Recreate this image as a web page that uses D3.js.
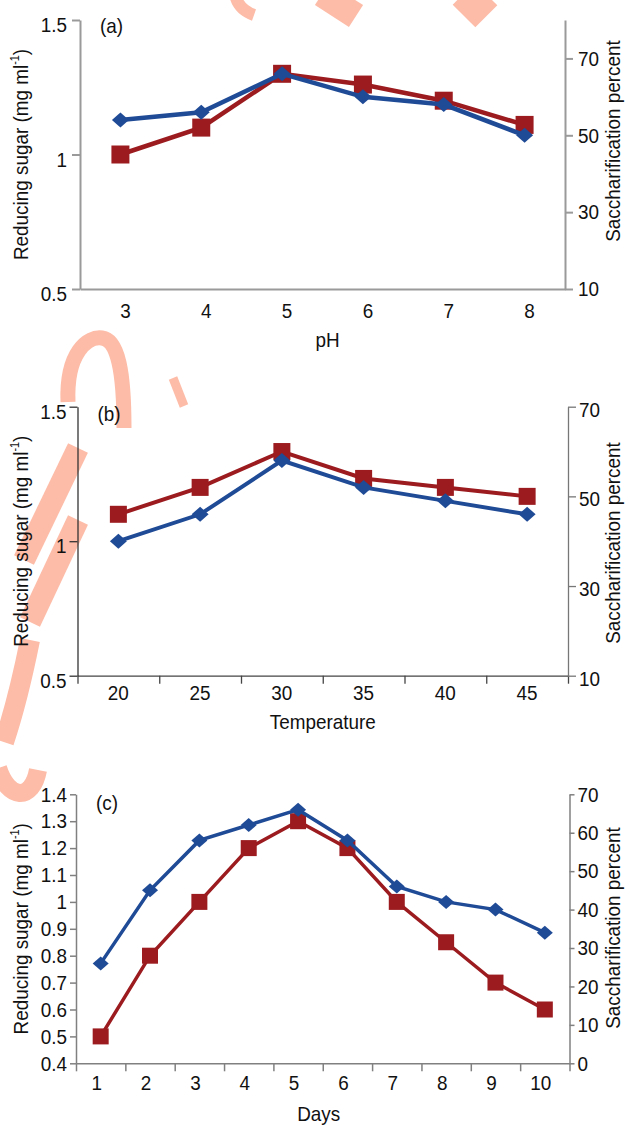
<!DOCTYPE html>
<html>
<head>
<meta charset="utf-8">
<script src="https://cdn.jsdelivr.net/npm/d3@7"></script>
<style>
  body { margin: 0; background: #fff; }
  text { font-family: "Liberation Sans", Arial, sans-serif; fill: #111; }
</style>
</head>
<body>
<script>
// ---- data ----
// (a) pH
const phLevels = [3, 4, 5, 6, 7, 8];
const phSugar = [1.0, 1.1, 1.3, 1.26, 1.2, 1.11];     // red squares, left axis
const phSacch = [54, 56, 66, 60, 58, 50];             // blue diamonds, right axis
const phLeftTicks = [0.5, 1, 1.5];
const phRightTicks = [10, 30, 50, 70];

// (b) temperature
const tempLevels = [20, 25, 30, 35, 40, 45];
const tempSugar = [1.0, 1.1, 1.3, 1.2, 1.15, 1.1];    // blue diamonds, left axis
const tempSacch = [46, 52, 60, 54, 52, 50];           // red squares, right axis
const tempLeftTicks = [0.5, 1, 1.5];
const tempRightTicks = [10, 30, 50, 70];

// (c) days
const dayLevels = [1, 2, 3, 4, 5, 6, 7, 8, 9, 10];
const daySugar = [0.5, 0.8, 1.0, 1.2, 1.3, 1.2, 1.0, 0.85, 0.7, 0.6];  // red squares, left axis
const daySacch = [26, 45, 58, 62, 66, 58, 46, 42, 40, 34];             // blue diamonds, right axis
const dayLeftTicks = [0.4, 0.5, 0.6, 0.7, 0.8, 0.9, 1, 1.1, 1.2, 1.3, 1.4];
const dayRightTicks = [0, 10, 20, 30, 40, 50, 60, 70];

const RED = "#9b1b1f", BLUE = "#1f4a96";
const FS = 21, NARROW = 0.9;   // original uses a narrow sans

const svg = d3.select("body").append("svg")
    .attr("width", 630)
    .attr("height", 1126);

// squeeze text horizontally to mimic the condensed face
function narrow(sel) {
    sel.each(function() {
        const t = d3.select(this);
        const x = +t.attr("x") || 0;
        t.attr("x", x / NARROW);
        t.attr("transform", (t.attr("transform") || "") + " scale(" + NARROW + ",1)");
    });
}

// faint watermark strokes behind the charts
const wm = svg.append("g")
    .attr("fill", "none")
    .attr("stroke", "#fdbca7")
    .attr("stroke-linecap", "butt");
[
    ["M236,-2 Q240,10 254,15", 12],
    ["M322,-6 L356,16", 26],
    ["M486,-6 L464,16", 32],
    ["M68,402 C66,352 88,336 102,338 C118,340 124,372 124,428", 15],
    ["M173,378 L184,406", 9],
    ["M78,448 L24,560", 22],
    ["M78,520 L30,622", 22],
    ["M30,640 Q18,700 4,742", 20],
    ["M-2,768 C8,800 32,802 38,770", 18]
].forEach(([d, w]) => wm.append("path").attr("d", d).attr("stroke-width", w));

function drawPanel(cfg) {
    const g = svg.append("g");

    const x = d3.scaleBand().domain(cfg.levels).range([cfg.x0, cfg.x1]);
    const xEdge = d3.scaleLinear().domain([0, cfg.levels.length]).range([cfg.x0, cfg.x1]);
    const yL = d3.scaleLinear().domain(cfg.leftDomain).range([cfg.yBot, cfg.yTop]);
    const yR = d3.scaleLinear().domain(cfg.rightDomain).range([cfg.yBot, cfg.yTop]);

    // x axis line + tick marks between categories
    const xAxis = g.append("g")
        .attr("transform", "translate(0," + cfg.yBot + ")")
        .call(d3.axisBottom(xEdge)
            .tickValues(d3.range(cfg.levels.length + 1))
            .tickSize(cfg.xTick)
            .tickSizeOuter(0)
            .tickFormat(""));
    xAxis.selectAll("path, line").attr("stroke", cfg.xColor).attr("stroke-width", cfg.axisW);

    // x labels at category centres
    const xLab = g.append("g")
        .attr("transform", "translate(" + cfg.xLabDx + "," + cfg.yBot + ")")
        .call(d3.axisBottom(x).tickSize(0).tickPadding(cfg.xLabPad));
    xLab.select(".domain").remove();
    xLab.selectAll("text").attr("font-size", FS).attr("font-family", null).call(narrow);

    const left = g.append("g")
        .attr("transform", "translate(" + cfg.x0 + ",0)")
        .call(d3.axisLeft(yL).tickValues(cfg.leftTicks).tickSize(cfg.yTickL)
            .tickSizeOuter(0).tickPadding(cfg.yPadL).tickFormat(d => String(d)));
    left.selectAll("path, line").attr("stroke", cfg.leftColor).attr("stroke-width", cfg.axisW);
    left.selectAll("text").attr("font-size", FS).attr("font-family", null).attr("dy", cfg.yLabDy).call(narrow);

    const right = g.append("g")
        .attr("transform", "translate(" + cfg.x1 + ",0)")
        .call(d3.axisRight(yR).tickValues(cfg.rightTicks).tickSize(cfg.yTickR)
            .tickSizeOuter(0).tickPadding(cfg.yPadR).tickFormat(d => String(d)));
    right.selectAll("path, line").attr("stroke", cfg.rightColor).attr("stroke-width", cfg.axisW);
    right.selectAll("text").attr("font-size", FS).attr("font-family", null).attr("dy", cfg.yLabDyR).call(narrow);

    // titles
    g.append("text")
        .attr("x", cfg.x0 + 20).attr("y", cfg.tagY)
        .attr("font-size", FS)
        .text(cfg.tag)
        .call(narrow);

    g.append("text")
        .attr("x", cfg.x0 + cfg.xLabDx + (cfg.x1 - cfg.x0) / 2)
        .attr("y", cfg.xTitleY)
        .attr("text-anchor", "middle")
        .attr("font-size", FS)
        .text(cfg.xTitle)
        .call(narrow);

    const lt = g.append("text")
        .attr("transform", "translate(28," + (cfg.yTop + cfg.yBot) / 2 + ") rotate(-90)")
        .attr("text-anchor", "middle")
        .attr("font-size", FS);
    lt.append("tspan").text("Reducing sugar (mg ml");
    lt.append("tspan").attr("font-size", 12).attr("dy", -9).text("-1");
    lt.append("tspan").attr("dy", 9).text(")");
    lt.call(narrow);

    g.append("text")
        .attr("transform", "translate(620," + cfg.rTitleY + ") rotate(-90)")
        .attr("text-anchor", "middle")
        .attr("font-size", FS)
        .text("Saccharification percent")
        .call(narrow);

    // series
    const cx = d => x(d) + x.bandwidth() / 2;
    const series = [
        { vals: cfg.redVals, y: cfg.redAxis === "left" ? yL : yR, color: RED, shape: "square" },
        { vals: cfg.blueVals, y: cfg.blueAxis === "left" ? yL : yR, color: BLUE, shape: "diamond" }
    ];
    series.forEach(s => {
        const pts = cfg.levels.map((lv, i) => [cx(lv), s.y(s.vals[i])]);
        g.append("path")
            .attr("d", d3.line()(pts))
            .attr("fill", "none")
            .attr("stroke", s.color)
            .attr("stroke-width", cfg.lineW);
        g.selectAll(null).data(pts).enter().append("path")
            .attr("transform", p => "translate(" + p[0] + "," + p[1] + ")")
            .attr("d", s.shape === "square"
                ? "M" + (-cfg.sq / 2) + "," + (-cfg.sq / 2) + "h" + cfg.sq + "v" + cfg.sq + "h" + (-cfg.sq) + "Z"
                : "M0," + (-cfg.dm / 2) + "L" + (cfg.dm / 2 + 1) + ",0L0," + (cfg.dm / 2) + "L" + (-cfg.dm / 2 - 1) + ",0Z")
            .attr("fill", s.color);
    });
}

drawPanel({
    levels: phLevels, redVals: phSugar, blueVals: phSacch, redAxis: "left", blueAxis: "right",
    leftTicks: phLeftTicks, rightTicks: phRightTicks,
    leftDomain: [0.5, 1.5], rightDomain: [10, 80],
    x0: 80, x1: 565, yTop: 20, yBot: 289,
    xTick: 0, xLabDx: 5, xLabPad: 14, yTickL: 8, yPadL: 5, yTickR: 8, yPadR: 5,
    yLabDy: "0.55em", yLabDyR: "0.32em",
    axisW: 2, xColor: "#9a9a9a", leftColor: "#9a9a9a", rightColor: "#9a9a9a",
    lineW: 4.5, sq: 18, dm: 15,
    tag: "(a)", tagY: 33, xTitle: "pH", xTitleY: 347, rTitleY: 141
});

drawPanel({
    levels: tempLevels, redVals: tempSacch, blueVals: tempSugar, redAxis: "right", blueAxis: "left",
    leftTicks: tempLeftTicks, rightTicks: tempRightTicks,
    leftDomain: [0.5, 1.5], rightDomain: [10, 70],
    x0: 77.5, x1: 568, yTop: 406.7, yBot: 675.7,
    xTick: 8, xLabDx: 0, xLabPad: 9, yTickL: 8, yPadL: 3, yTickR: 8, yPadR: 3,
    yLabDy: "0.55em", yLabDyR: "0.45em",
    axisW: 1.3, xColor: "#444", leftColor: "#333", rightColor: "#777",
    lineW: 4, sq: 17, dm: 15,
    tag: "(b)", tagY: 421, xTitle: "Temperature", xTitleY: 729, rTitleY: 543
});

drawPanel({
    levels: dayLevels, redVals: daySugar, blueVals: daySacch, redAxis: "left", blueAxis: "right",
    leftTicks: dayLeftTicks, rightTicks: dayRightTicks,
    leftDomain: [0.4, 1.4], rightDomain: [0, 70],
    x0: 76, x1: 569.5, yTop: 794.3, yBot: 1063.3,
    xTick: 8, xLabDx: -4, xLabPad: 12, yTickL: 6, yPadL: 3, yTickR: 5, yPadR: 3,
    yLabDy: "0.32em", yLabDyR: "0.32em",
    axisW: 1.5, xColor: "#808080", leftColor: "#808080", rightColor: "#808080",
    lineW: 3.5, sq: 16, dm: 14,
    tag: "(c)", tagY: 810, xTitle: "Days", xTitleY: 1121, rTitleY: 928
});
</script>
</body>
</html>
